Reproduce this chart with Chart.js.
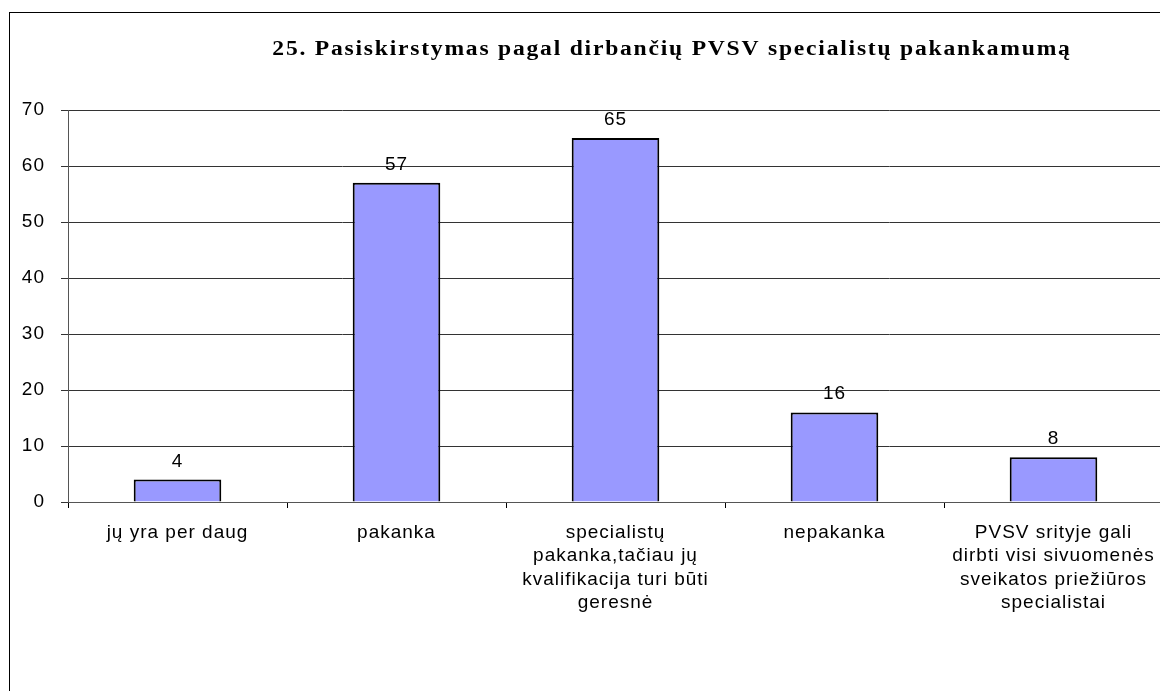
<!DOCTYPE html>
<html>
<head>
<meta charset="utf-8">
<script src="https://cdn.jsdelivr.net/npm/chart.js@4/dist/chart.umd.min.js"></script>
<style>
  html, body { margin: 0; padding: 0; background: #fff; overflow: hidden; }
  body { width: 1160px; height: 691px; position: relative; }
  #frame { position: absolute; left: 9px; top: 12px; width: 1300px; height: 800px; border: 1px solid #000; }
  #wrap { position: absolute; left: 0; top: 0; width: 1180px; height: 691px; }
</style>
</head>
<body>
<div id="frame"></div>
<div id="wrap"><canvas id="myChart" width="1180" height="691"></canvas></div>
<script>
// дані діаграми
var chartTitle = '25. Pasiskirstymas pagal dirbančių PVSV specialistų pakankamumą';
var categories = [
    ['jų yra per daug'],
    ['pakanka'],
    ['specialistų', 'pakanka,tačiau jų', 'kvalifikacija turi būti', 'geresnė'],
    ['nepakanka'],
    ['PVSV srityje gali', 'dirbti visi sivuomenės', 'sveikatos priežiūros', 'specialistai']
];
var values = [4, 57, 65, 16, 8];
var yTicks = [0, 10, 20, 30, 40, 50, 60, 70];

// трохи ширший текст, як в оригіналі
var spacing = {
    id: 'spacing',
    beforeDraw: function (chart) {
        chart.ctx.letterSpacing = '1px';
    }
};

// підписи значень над стовпчиками
var valueLabels = {
    id: 'valueLabels',
    afterDatasetsDraw: function (chart) {
        var ctx = chart.ctx;
        var meta = chart.getDatasetMeta(0);
        ctx.save();
        ctx.font = '19px "Liberation Sans", Arial, sans-serif';
        ctx.letterSpacing = '1px';
        ctx.fillStyle = '#000';
        ctx.textAlign = 'center';
        ctx.textBaseline = 'alphabetic';
        meta.data.forEach(function (bar, i) {
            ctx.fillText(String(values[i]), bar.x, bar.y - 13);
        });
        ctx.restore();
    }
};

// заголовок (центр зміщений, шрифт розтягнутий як в оригіналі)
var titlePlugin = {
    id: 'titlePlugin',
    afterDraw: function (chart) {
        var ctx = chart.ctx;
        ctx.save();
        ctx.font = 'bold 20px "Liberation Serif", "Times New Roman", serif';
        ctx.letterSpacing = '1.5px';
        ctx.fillStyle = '#000';
        ctx.textAlign = 'center';
        ctx.textBaseline = 'alphabetic';
        ctx.translate(672, 55);
        ctx.scale(1.18, 1);
        ctx.fillText(chartTitle, 0, 0);
        ctx.restore();
    }
};

function renderChart() {
    var ctx = document.getElementById('myChart').getContext('2d');
    var myChart = new Chart(ctx, {
        type: 'bar',
        data: {
            labels: categories,
            datasets: [{
                data: values,
                backgroundColor: '#9999FF',
                borderColor: '#000',
                borderWidth: 2,
                borderSkipped: 'bottom',
                categoryPercentage: 1,
                barPercentage: 0.4
            }]
        },
        options: {
            responsive: false,
            animation: false,
            layout: { padding: { top: 110, left: 0, right: 17, bottom: 0 } },
            plugins: {
                legend: { display: false },
                title: { display: false },
                tooltip: { enabled: false }
            },
            scales: {
                x: {
                    afterFit: function (scale) { scale.height = 189; },
                    grid: { drawOnChartArea: false, drawTicks: true, tickLength: 6, color: '#000', offset: true },
                    border: { display: true, color: '#555', width: 1 },
                    ticks: {
                        color: '#000',
                        autoSkip: false,
                        maxRotation: 0,
                        minRotation: 0,
                        padding: 13,
                        font: { family: '"Liberation Sans", Arial, sans-serif', size: 19, lineHeight: 1.23 }
                    }
                },
                y: {
                    min: yTicks[0],
                    max: yTicks[yTicks.length - 1],
                    afterFit: function (scale) { scale.width = 68; },
                    afterBuildTicks: function (scale) {
                        scale.ticks = yTicks.map(function (v) { return { value: v }; });
                    },
                    grid: { color: '#333', lineWidth: 1, tickLength: 7, drawTicks: true },
                    border: { display: true, color: '#555', width: 1 },
                    ticks: {
                        color: '#000',
                        padding: 16,
                        font: { family: '"Liberation Sans", Arial, sans-serif', size: 19 }
                    }
                }
            }
        },
        plugins: [spacing, valueLabels, titlePlugin]
    });
}

renderChart();
</script>
</body>
</html>
